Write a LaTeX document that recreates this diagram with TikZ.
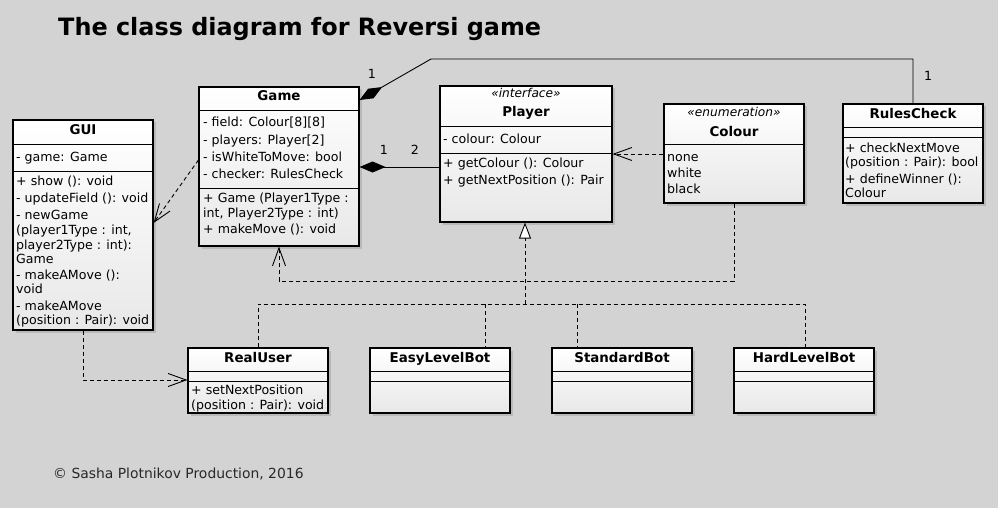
\documentclass[tikz,border=0pt]{standalone}
\usepackage{fontspec}
\setmainfont{DejaVu Sans}
\usetikzlibrary{arrows.meta,fit,shadows,calc}
\definecolor{bg}{RGB}{211,211,211}
\definecolor{copytext}{RGB}{40,40,40}
\newcounter{tl}
\newcommand\tline[3]{\stepcounter{tl}\node[txt] (tl\arabic{tl}) at (#1,#2) {#3};}
\newcommand\tbold[3]{\stepcounter{tl}\node[ttl] (tl\arabic{tl}) at (#1,#2) {#3};}
\newcommand\tster[3]{\stepcounter{tl}\node[ster] (tl\arabic{tl}) at (#1,#2) {#3};}
\newcommand\umlbox[5]{\node[umlbox, fit={(#2,#3) (#4,#5)}] (#1) {};}
\newcommand\sepline[4]{\draw[sepl] (#1,#3) -- (#2,#3);}
\tikzset{
  umlbox/.style={draw=black, line width=1.1pt, inner sep=0pt, top color=white, bottom color=black!9,
    drop shadow={opacity=0.3, shadow xshift=2.5pt, shadow yshift=-2.5pt}},
  sepl/.style={line width=1pt},
  txt/.style={inner sep=0pt, anchor=base west, font=\fontsize{12.6}{14}\selectfont},
  ttl/.style={inner sep=0pt, anchor=base, font=\fontsize{13.4}{15}\selectfont\bfseries},
  ster/.style={inner sep=0pt, anchor=base, font=\fontsize{12.2}{13}\selectfont\itshape},
  mult/.style={inner sep=0pt, anchor=base, font=\fontsize{12.6}{14}\selectfont},
  dep/.style={line width=0.9pt, dash pattern=on 4pt off 3pt, -{Straight Barb[length=18pt,width=13pt]}},
  comp/.style={line width=0.9pt, -{Diamond[length=26pt,width=11pt]}},
  realz/.style={line width=0.9pt, dash pattern=on 4pt off 3pt},
}
\begin{document}
\begin{tikzpicture}[x=1pt,y=-1pt]
\fill[bg] (0,0) rectangle (998,508);
\useasboundingbox (0,0) rectangle (998,508);

\node[inner sep=0pt, anchor=base west, font=\fontsize{23.9}{28}\selectfont\bfseries] (title) at (58,36) {The class diagram for Reversi game};
\node[inner sep=0pt, anchor=base west, text=copytext, font=\fontsize{13.9}{15}\selectfont] (copy) at (53,478) {© Sasha Plotnikov Production, 2016};

% boxes
\umlbox{gui}{13}{120}{153}{330}
\sepline{13}{153}{144}{} \sepline{13}{153}{171}{}
\umlbox{game}{199}{87}{359}{246}
\sepline{199}{359}{111}{} \sepline{199}{359}{188}{}
\umlbox{player}{440}{86}{612}{222}
\sepline{440}{612}{127}{} \sepline{440}{612}{153}{}
\umlbox{colour}{664}{104}{804}{203}
\sepline{664}{804}{144}{}
\umlbox{rules}{843}{104}{983}{203}
\sepline{843}{983}{128}{} \sepline{843}{983}{138}{}
\umlbox{realuser}{188}{348}{328}{413}
\sepline{188}{328}{371}{} \sepline{188}{328}{381}{}
\umlbox{easy}{370}{348}{510}{413}
\sepline{370}{510}{371}{} \sepline{370}{510}{381}{}
\umlbox{standard}{552}{348}{692}{413}
\sepline{552}{692}{371}{} \sepline{552}{692}{381}{}
\umlbox{hard}{734}{348}{874}{413}
\sepline{734}{874}{371}{} \sepline{734}{874}{381}{}

% GUI
\tbold{83}{135}{GUI}
\tline{16}{161}{- game: Game}
\tline{16}{185}{+ show (): void}
\tline{16}{202}{- updateField (): void}
\tline{16}{219}{- newGame}
\tline{16}{234}{(player1Type : int,}
\tline{16}{249}{player2Type : int):}
\tline{16}{263}{Game}
\tline{16}{279}{- makeAMove ():}
\tline{16}{293}{void}
\tline{16}{310}{- makeAMove}
\tline{16}{324}{(position : Pair): void}

% Game
\tbold{279}{101}{Game}
\tline{203}{127}{- field: Colour[8][8]}
\tline{203}{144}{- players: Player[2]}
\tline{203}{161}{- isWhiteToMove: bool}
\tline{203}{178}{- checker: RulesCheck}
\tline{203}{202}{+ Game (Player1Type :}
\tline{203}{217}{int, Player2Type : int)}
\tline{203}{233}{+ makeMove (): void}

% Player
\tster{526}{98}{«interface»}
\tbold{526}{117}{Player}
\tline{443}{143}{- colour: Colour}
\tline{443}{167}{+ getColour (): Colour}
\tline{443}{184}{+ getNextPosition (): Pair}

% Colour
\tster{734}{117}{«enumeration»}
\tbold{734}{136}{Colour}
\tline{667}{161}{none}
\tline{667}{177}{white}
\tline{667}{193}{black}

% RulesCheck
\tbold{913}{119}{RulesCheck}
\tline{845}{152}{+ checkNextMove}
\tline{845}{166}{(position : Pair): bool}
\tline{845}{183}{+ defineWinner ():}
\tline{845}{197}{Colour}

% bottom classes
\tbold{258}{362}{RealUser}
\tline{191}{394}{+ setNextPosition}
\tline{191}{409}{(position : Pair): void}
\tbold{440}{362}{EasyLevelBot}
\tbold{622}{362}{StandardBot}
\tbold{804}{362}{HardLevelBot}

% compositions
\draw[comp] (rules.north) -- (rules.north |- 0,59) -- (431,59) -- (game.east |- 0,100);
\draw[comp] (player.west |- 0,167) -- (game.east |- 0,167);
\node[mult] (m1) at (372,79) {1};
\node[mult] (m2) at (928,81) {1};
\node[mult] (m3) at (384,154) {1};
\node[mult] (m4) at (415,154) {2};

% dependencies
\draw[dep] (colour.west |- 0,154) -- (player.east |- 0,154);
\draw[dep] (game.west |- 0,160) -- (gui.east |- 0,223);
\draw[dep] (colour.south) -- (colour.south |- 0,281) -- (game.south |- 0,281) -- (game.south);
\draw[dep] (gui.south) -- (gui.south |- 0,380) -- (realuser.west |- 0,380);

% realization
\draw[realz] (realuser.north) -- (realuser.north |- 0,304) -- (805,304) -- (hard.north -| 805,0);
\draw[realz] (485,304) -- (easy.north -| 485,0);
\draw[realz] (577,304) -- (standard.north -| 577,0);
\draw[realz, -{Triangle[open, length=16pt, width=12pt, fill=white]}] (525,304) -- (player.south -| 525,0);
\end{tikzpicture}
\end{document}
